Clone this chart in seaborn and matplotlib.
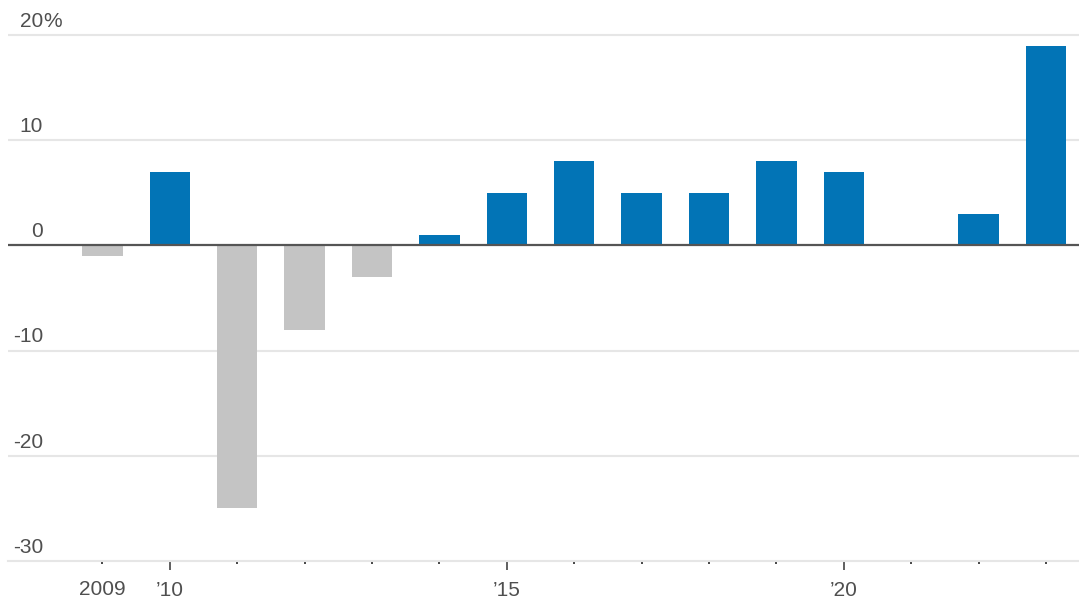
import matplotlib
matplotlib.use("Agg")
import matplotlib.pyplot as plt
import seaborn as sns
import pandas as pd

# Annual change, percent
years = [2009, 2010, 2011, 2012, 2013, 2014, 2015, 2016, 2017, 2018, 2019, 2020, 2021, 2022, 2023]
values = [-1, 7, -25, -8, -3, 1, 5, 8, 5, 5, 8, 7, 0, 3, 19]

y_ticks = [20, 10, 0, -10, -20]
y_labels = ["20", "10", "0", "-10", "-20", "-30"]
y_label_vals = [20, 10, 0, -10, -20, -30]
major_years = [2010, 2015, 2020]
major_labels = ["\u201910", "\u201915", "\u201920"]
minor_years = [y for y in years if y not in major_years]
minor_labels = ["2009"] + [""] * (len(minor_years) - 1)

BLUE = "#0274B6"
GREY = "#C4C4C4"
TEXT = "#4F4F4F"

sns.set_theme(style="white")
plt.rcParams["font.family"] = ["Liberation Sans", "DejaVu Sans"]

df = pd.DataFrame({"year": years, "change": values})
df["sign"] = ["up" if v >= 0 else "down" for v in values]

fig = plt.figure(figsize=(10.79, 6.04), dpi=100)
ax = fig.add_axes([8 / 1079, 43 / 604, 1071 / 1079, 561 / 604])

sns.barplot(data=df, x="year", y="change", hue="sign",
            palette={"up": BLUE, "down": GREY}, native_scale=True,
            width=0.6, dodge=False, legend=False, linewidth=0,
            saturation=1, errorbar=None, ax=ax, zorder=3)

ax.set_xlim(2007.6, 2023.49)
ax.set_ylim(-30, 23.33)

# horizontal gridlines and zero baseline
for v in y_ticks:
    if v == 0:
        continue
    ax.axhline(v, color="#E6E6E6", lw=1.5, zorder=1)
ax.axhline(0, color="#555555", lw=1.6, zorder=4)

for side in ["top", "left", "right"]:
    ax.spines[side].set_visible(False)
ax.spines["bottom"].set_color("#E6E6E6")
ax.spines["bottom"].set_linewidth(1.5)

# y labels: numbers right-aligned above their gridlines, % hanging after the top one
ax.set_yticks([])
label_x = 35 / 1071
for v, lab in zip(y_label_vals, y_labels):
    t = ax.annotate(lab, xy=(label_x, v), xycoords=("axes fraction", "data"),
                    xytext=(0, 3), textcoords="offset points",
                    ha="right", va="bottom", fontsize=15, color=TEXT,
                    annotation_clip=False)
    if v == max(y_label_vals):
        ax.annotate("%", xy=(label_x, v), xycoords=("axes fraction", "data"),
                    xytext=(0, 3), textcoords="offset points",
                    ha="left", va="bottom", fontsize=15, color=TEXT,
                    annotation_clip=False)

# x ticks: tall ticks at labelled years, small ticks elsewhere
ax.set_xticks(major_years)
ax.set_xticklabels(major_labels)
ax.set_xticks(minor_years, minor=True)
ax.set_xticklabels(minor_labels, minor=True)
ax.tick_params(axis="x", which="major", length=6.5, width=1.2, color="#444444",
               pad=8, labelsize=15, labelcolor=TEXT, bottom=True)
ax.tick_params(axis="x", which="minor", length=2.2, width=1.4, color="#444444",
               pad=11.5, labelsize=15, labelcolor=TEXT, bottom=True)
ax.set_xlabel("")
ax.set_ylabel("")

fig.savefig("out.png", dpi=100)
